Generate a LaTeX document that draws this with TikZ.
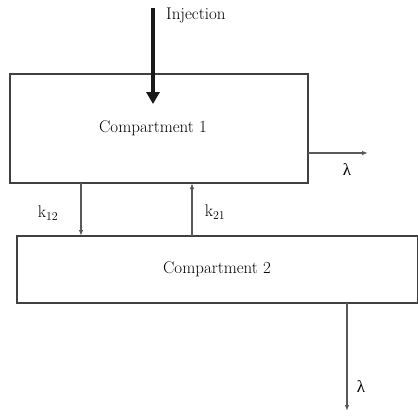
\documentclass[tikz,border=0pt]{standalone}
\usepackage{fontspec}
\newfontfamily\grk{Liberation Serif}
\usetikzlibrary{arrows.meta}
\begin{document}
\begin{tikzpicture}[x=1bp,y=-1bp,
  box/.style={draw=black!75,line width=1.2bp},
  thin arrow/.style={draw=black!65,line width=1.1bp,-{Latex[length=6bp,width=4.5bp]}},
  lbl/.style={font=\fontsize{17}{20}\selectfont,text=black,inner sep=0pt}]
\useasboundingbox (0,0) rectangle (418,418);
\draw[box] (10,74) rectangle (308,183);
\draw[box] (17,236) rectangle (417.4,303);
\node[lbl] (c1) at (153,128) {Compartment 1};
\node[lbl] (c2) at (217,269) {Compartment 2};
\coordinate (injtop) at (153,8);
\coordinate (injend) at (153,104);
\draw[line width=4bp,black!90,-{Triangle[length=12bp,width=13bp]}] (injtop) -- (injend);
\node[lbl,anchor=west] (inj) at (166,15) {Injection};
\coordinate (l1s) at (308,153);
\coordinate (l1e) at (368,153);
\draw[thin arrow] (l1s) -- (l1e);
\node[lbl] (lam1) at (347,170) {\grk λ};
\coordinate (k12s) at (81,183);
\coordinate (k12e) at (81,236);
\draw[thin arrow] (k12s) -- (k12e);
\node[lbl] (k12) at (48,213) {k$_{12}$};
\coordinate (k21s) at (192,236);
\coordinate (k21e) at (192,183);
\draw[thin arrow] (k21s) -- (k21e);
\node[lbl] (k21) at (215,212) {k$_{21}$};
\coordinate (l2s) at (347,303);
\coordinate (l2e) at (347,411);
\draw[thin arrow] (l2s) -- (l2e);
\node[lbl] (lam2) at (361,387) {\grk λ};
\end{tikzpicture}
\end{document}
